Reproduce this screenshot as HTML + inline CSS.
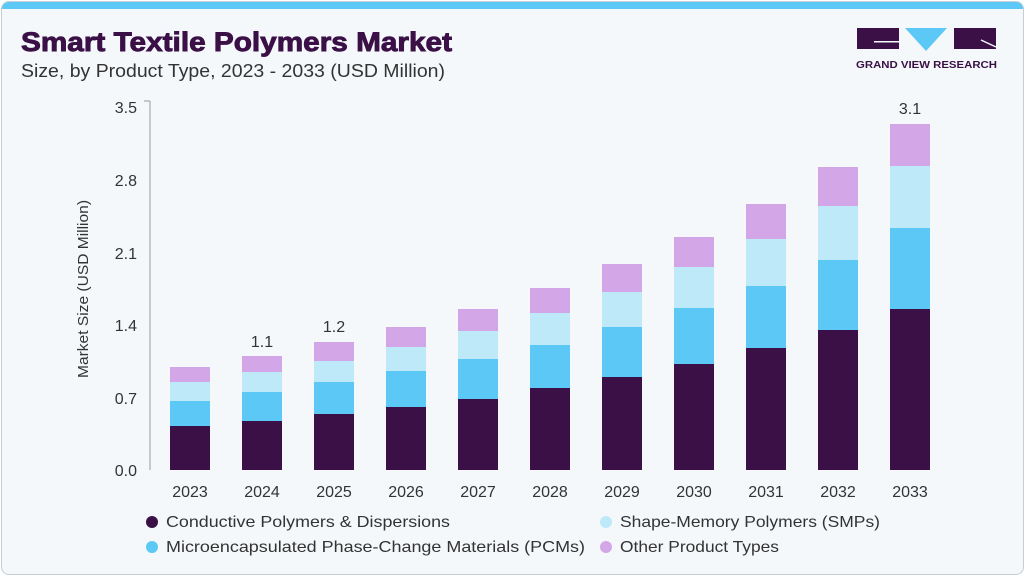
<!DOCTYPE html><html><head><style>
body{margin:0;width:1025px;height:576px;background:#fff;font-family:"Liberation Sans",sans-serif;overflow:hidden}
.card{position:absolute;left:1px;top:1px;width:1021px;height:572px;border:1px solid #c8cdd2;border-radius:8px;background:#f4f8fb;overflow:hidden}
.top{position:absolute;left:0;top:0;width:100%;height:7px;background:#5bc8f5}
</style></head><body><div class="card"><div class="top"></div></div>
<svg width="1025" height="576" style="position:absolute;left:0;top:0" font-family="Liberation Sans, sans-serif">
<text x="21" y="51" font-size="27" font-weight="900" fill="#3a1046" stroke="#3a1046" stroke-width="0.9" textLength="431" lengthAdjust="spacingAndGlyphs">Smart Textile Polymers Market</text>
<text x="21" y="77" font-size="18" fill="#333" textLength="424" lengthAdjust="spacingAndGlyphs">Size, by Product Type, 2023 - 2033 (USD Million)</text>
<rect x="857" y="28" width="42" height="21" fill="#3a1046"/><rect x="874" y="41" width="25" height="1.5" fill="#f4f8fb"/>
<polygon points="905,28 947,28 926,51" fill="#5bc8f5"/>
<rect x="954" y="28" width="42" height="21" fill="#3a1046"/><line x1="981" y1="40" x2="996" y2="47" stroke="#f4f8fb" stroke-width="1.5"/>
<text x="856" y="68" font-size="10" font-weight="bold" fill="#3a1046" textLength="141" lengthAdjust="spacingAndGlyphs">GRAND VIEW RESEARCH</text>
<line x1="150" y1="101" x2="150" y2="470" stroke="#999"/><line x1="144" y1="101" x2="150" y2="101" stroke="#999"/>
<g font-size="16" fill="#333" text-anchor="end">
<text x="137" y="476">0.0</text><text x="137" y="404">0.7</text><text x="137" y="331">1.4</text><text x="137" y="259">2.1</text><text x="137" y="186">2.8</text><text x="137" y="113">3.5</text></g>
<text transform="translate(88,289) rotate(-90)" font-size="15" fill="#333" text-anchor="middle" textLength="178" lengthAdjust="spacingAndGlyphs">Market Size (USD Million)</text>
<g id="bars"></g>
<g font-size="16" fill="#333" text-anchor="middle">
<text x="262" y="347">1.1</text><text x="334" y="332">1.2</text><text x="910" y="114">3.1</text></g>
<circle cx="152" cy="522" r="6" fill="#3a1046"/><text x="166" y="527" font-size="16" fill="#333" textLength="284" lengthAdjust="spacingAndGlyphs">Conductive Polymers &amp; Dispersions</text>
<circle cx="152" cy="547" r="6" fill="#5bc8f5"/><text x="166" y="552" font-size="16" fill="#333" textLength="419" lengthAdjust="spacingAndGlyphs">Microencapsulated Phase-Change Materials (PCMs)</text>
<circle cx="606" cy="522" r="6" fill="#bde9f8"/><text x="620" y="527" font-size="16" fill="#333" textLength="260" lengthAdjust="spacingAndGlyphs">Shape-Memory Polymers (SMPs)</text>
<circle cx="606" cy="547" r="6" fill="#d3a6e8"/><text x="620" y="552" font-size="16" fill="#333" textLength="159" lengthAdjust="spacingAndGlyphs">Other Product Types</text>
</svg>
<script>
var d=[[426,401,382,367],[421,392,372,356],[414,382,361,342],[407,371,347,327],[399,359,331,309],[388,345,313,288],[377,327,292,264],[364,308,267,237],[348,286,239,204],[330,260,206,167],[309,228,166,124]];
var c=["#3a1046","#5bc8f5","#bde9f8","#d3a6e8"],s="";
d.forEach(function(b,i){var x=170+72*i,prev=470;b.forEach(function(t,j){s+='<rect x="'+x+'" y="'+t+'" width="40" height="'+(prev-t)+'" fill="'+c[j]+'"/>';prev=t;});
s+='<text x="'+(x+20)+'" y="497" font-size="16" fill="#333" text-anchor="middle">'+(2023+i)+'</text>';});
document.getElementById("bars").innerHTML=s;
</script></body></html>
